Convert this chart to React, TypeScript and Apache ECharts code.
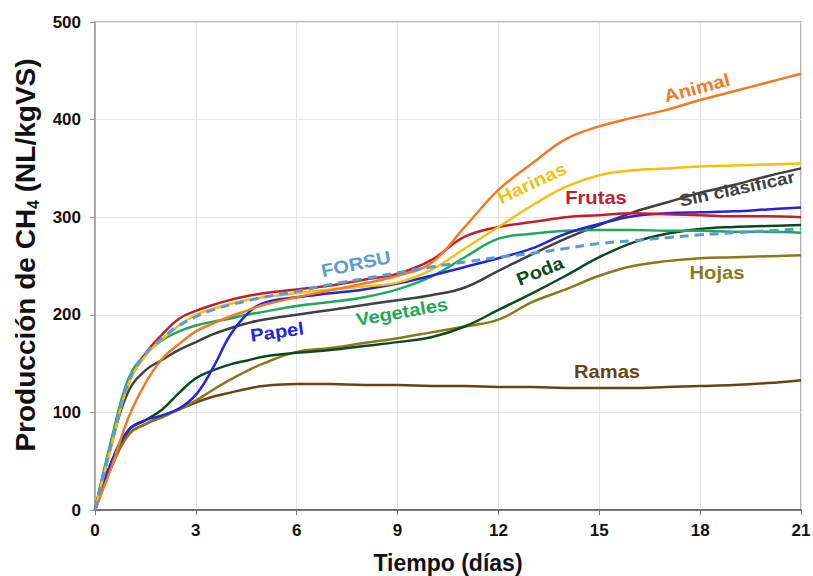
import React, { useEffect, useRef } from "react";
import * as echarts from "echarts";

const days = [0, 0.5, 1, 1.5, 2, 2.5, 3, 3.5, 4, 4.5, 5, 6, 7, 8, 9, 10, 11, 12, 13, 14, 15, 16, 17, 18, 19, 20, 21];

const animal = [0, 45, 95, 130, 155, 170, 183, 191, 198, 204, 210, 218, 225, 232, 240, 253, 290, 328, 355, 380, 393, 402, 410, 420, 429, 438, 447];
const harinas = [0, 68, 130, 158, 175, 189, 200, 206, 211, 215, 218, 222, 226, 229, 233, 246, 268, 290, 312, 331, 343, 348, 350, 352, 353, 354, 355];
const frutas = [0, 68, 130, 160, 180, 196, 204, 210, 215, 219, 222, 226, 230, 236, 242, 256, 280, 290, 295, 300, 302, 304, 303, 302, 301, 301, 300];
const sinClasificar = [0, 70, 122, 143, 154, 164, 172, 180, 186, 191, 195, 200, 205, 210, 215, 220, 228, 245, 262, 278, 292, 305, 315, 325, 333, 342, 350];
const vegetales = [0, 74, 135, 160, 174, 183, 189, 193, 196, 200, 203, 209, 213, 218, 226, 239, 259, 278, 283, 286, 287, 287, 286, 286, 285, 285, 284];
const papel = [0, 50, 82, 92, 97, 104, 118, 145, 178, 200, 212, 218, 222, 226, 232, 240, 249, 258, 268, 283, 293, 301, 304, 305, 306, 308, 310];
const forsu = [0, 70, 132, 160, 176, 189, 198, 205, 210, 214, 218, 224, 231, 237, 243, 249, 254, 259, 263, 268, 273, 276, 279, 282, 284, 286, 288];
const poda = [0, 50, 82, 92, 103, 120, 135, 143, 149, 153, 157, 161, 164, 168, 172, 177, 188, 205, 222, 240, 259, 274, 283, 288, 290, 291, 292];
const hojas = [0, 45, 77, 88, 95, 103, 112, 123, 133, 142, 150, 162, 166, 171, 176, 182, 188, 195, 213, 226, 240, 250, 255, 258, 259, 260, 261];
const ramas = [0, 45, 78, 88, 96, 103, 110, 116, 120, 124, 127, 129, 129, 128, 128, 127, 127, 126, 126, 125, 125, 125, 126, 127, 128, 130, 133];

const seriesDefs = [
  { name: "Ramas", data: ramas, color: "#6b4215", dashed: false },
  { name: "Hojas", data: hojas, color: "#8c7818", dashed: false },
  { name: "Poda", data: poda, color: "#0b4a1c", dashed: false },
  { name: "Sin clasificar", data: sinClasificar, color: "#404040", dashed: false },
  { name: "Vegetales", data: vegetales, color: "#1fa85a", dashed: false },
  { name: "Papel", data: papel, color: "#2424e0", dashed: false },
  { name: "Frutas", data: frutas, color: "#c0202c", dashed: false },
  { name: "Harinas", data: harinas, color: "#f5c010", dashed: false },
  { name: "Animal", data: animal, color: "#f07a26", dashed: false },
  { name: "FORSU", data: forsu, color: "#5b9bd5", dashed: true },
];

const curveLabels = [
  { text: "Animal", x: 697, y: 88, rot: 15, color: "#f07a26", size: 18 },
  { text: "Harinas", x: 532, y: 183, rot: 25, color: "#f5c010", size: 18 },
  { text: "Frutas", x: 596, y: 198, rot: 0, color: "#c0202c", size: 18 },
  { text: "Sin clasificar", x: 737, y: 189, rot: 12, color: "#404040", size: 17 },
  { text: "FORSU", x: 356, y: 264, rot: 12, color: "#5b9bd5", size: 18 },
  { text: "Vegetales", x: 402, y: 312, rot: 10, color: "#1fa85a", size: 18 },
  { text: "Papel", x: 277, y: 332, rot: 8, color: "#2424e0", size: 18 },
  { text: "Poda", x: 540, y: 271, rot: 22, color: "#0b4a1c", size: 18 },
  { text: "Hojas", x: 717, y: 273, rot: 0, color: "#8c7818", size: 18 },
  { text: "Ramas", x: 607, y: 372, rot: 0, color: "#6b4215", size: 18 },
];

export default function App() {
  const ref = useRef<HTMLDivElement>(null);
  useEffect(() => {
    if (!ref.current) return;
    const chart = echarts.init(ref.current, null, { renderer: "svg" });
    const font = "'Liberation Sans', Arial, sans-serif";
    chart.setOption({
      animation: false,
      textStyle: { fontFamily: font },
      grid: {
        left: 95,
        right: 12,
        top: 22,
        bottom: 66,
        show: true,
        borderColor: "#9a9a9a",
        borderWidth: 1.5,
        containLabel: false,
        outerBoundsMode: "none",
      },
      xAxis: {
        type: "value",
        min: 0,
        max: 21,
        interval: 3,
        name: "Tiempo (días)",
        nameLocation: "middle",
        nameGap: 41,
        nameTextStyle: { fontSize: 23, fontWeight: "bold", color: "#111", fontFamily: font },
        axisLine: { show: true, lineStyle: { color: "#555", width: 1.5 } },
        axisTick: { show: true, length: 5, lineStyle: { color: "#777" } },
        axisLabel: { fontSize: 17, fontWeight: "bold", color: "#111", margin: 12, fontFamily: font },
        splitLine: { show: true, lineStyle: { color: "#e2e2e2", width: 1 } },
      },
      yAxis: {
        type: "value",
        min: 0,
        max: 500,
        interval: 100,
        name: "{a|Producción de CH}{s|4}{a| (NL/kgVS)}",
        nameLocation: "middle",
        nameGap: 50,
        nameRotate: 90,
        nameTextStyle: {
          padding: [0, 0, 0, 22],
          rich: {
            a: { fontSize: 28, fontWeight: "bold", color: "#111", fontFamily: font, lineHeight: 32 },
            s: { fontSize: 16, fontWeight: "bold", color: "#111", fontFamily: font, verticalAlign: "bottom", lineHeight: 16 },
          },
        },
        axisLine: { show: true, lineStyle: { color: "#9a9a9a", width: 1.5 } },
        axisTick: { show: true, length: 5, lineStyle: { color: "#999" } },
        axisLabel: { fontSize: 17, fontWeight: "bold", color: "#111", margin: 14, fontFamily: font },
        splitLine: { show: true, lineStyle: { color: "#e6e6e6", width: 1 } },
      },
      series: seriesDefs.map((s) => ({
        name: s.name,
        type: "line",
        smooth: 0.4,
        showSymbol: false,
        symbol: "none",
        data: days.map((d, i) => [d, s.data[i]]),
        lineStyle: {
          color: s.color,
          width: s.dashed ? 3 : 2.5,
          type: s.dashed ? [9, 6] : "solid",
        },
        itemStyle: { color: s.color },
        z: s.dashed ? 5 : 2,
      })),
      graphic: curveLabels.map((l) => ({
        type: "text",
        x: l.x,
        y: l.y,
        rotation: (l.rot * Math.PI) / 180,
        scaleX: 1.12,
        z: 100,
        style: {
          text: l.text,
          fill: l.color,
          fontSize: l.size,
          fontWeight: "bold",
          fontFamily: font,
          align: "center",
          verticalAlign: "middle",
        },
      })),
    });
    return () => chart.dispose();
  }, []);
  return <div ref={ref} style={{ width: 813, height: 576, position: "absolute", left: 0, top: 0 }} />;
}
